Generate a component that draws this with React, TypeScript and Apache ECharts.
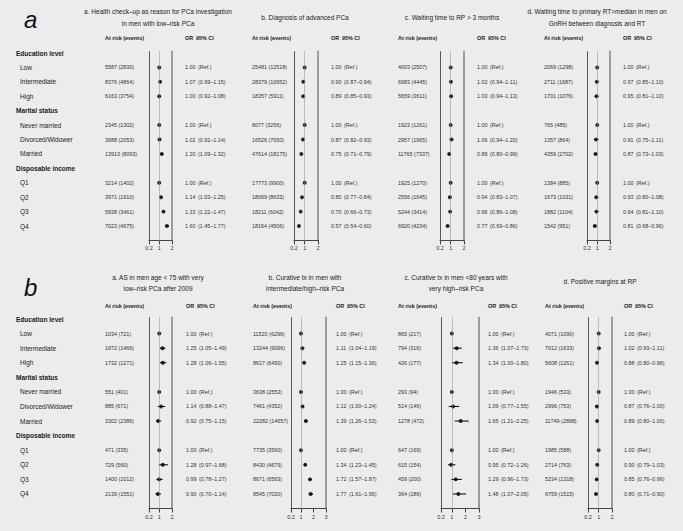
import React, { useEffect, useRef } from "react";
import * as echarts from "echarts";

// ---------- DATA ----------
const ROW_LABELS = [
  "Education level", "Low", "Intermediate", "High",
  "Marital status", "Never married", "Divorced/Widower", "Married",
  "Disposable income", "Q1", "Q2", "Q3", "Q4",
];
const HEADER_ROWS = [0, 4, 8];
const ITEM_ROWS = [1, 2, 3, 5, 6, 7, 9, 10, 11, 12];

const TOP_TITLES = [
  ["a. Health check\u2013up as reason for PCa investigation", "in men with low\u2013risk PCa"],
  ["b. Diagnosis of advanced PCa"],
  ["c. Waiting time to RP > 3 months"],
  ["d. Waiting time to primary RT>median in men on", "GnRH between diagnosis and RT"],
];
const BOTTOM_TITLES = [
  ["a. AS in men age < 75 with very", "low\u2013risk PCa after 2009"],
  ["b. Curative tx in men with", "intermediate/high\u2013risk PCa"],
  ["c. Curative tx in men <80 years with", "very high\u2013risk PCa"],
  ["d. Positive margins at RP"],
];

// Top a
const TOP_A_AT_RISK = [5587, 8376, 6163, 2345, 3688, 13913, 3214, 3971, 5938, 7023];
const TOP_A_EVENTS = [2830, 4864, 3754, 1302, 2053, 8093, 1402, 1910, 3461, 4675];
const TOP_A_OR = [1.0, 1.07, 1.0, 1.0, 1.02, 1.2, 1.0, 1.14, 1.33, 1.6];
const TOP_A_LO = [null, 0.99, 0.92, null, 0.92, 1.09, null, 1.03, 1.22, 1.45];
const TOP_A_HI = [null, 1.15, 1.08, null, 1.14, 1.32, null, 1.25, 1.47, 1.77];
// Top b
const TOP_B_AT_RISK = [25481, 28379, 18357, 8077, 16526, 47614, 17773, 18069, 18211, 18164];
const TOP_B_EVENTS = [12518, 10652, 5911, 3256, 7650, 18175, 9900, 8633, 6042, 4506];
const TOP_B_OR = [1.0, 0.9, 0.89, 1.0, 0.87, 0.75, 1.0, 0.8, 0.7, 0.57];
const TOP_B_LO = [null, 0.87, 0.85, null, 0.82, 0.71, null, 0.77, 0.66, 0.54];
const TOP_B_HI = [null, 0.94, 0.93, null, 0.93, 0.79, null, 0.84, 0.73, 0.6];
// Top c
const TOP_C_AT_RISK = [4003, 6983, 5659, 1923, 2957, 11765, 1925, 2556, 5244, 6920];
const TOP_C_EVENTS = [2507, 4445, 3611, 1261, 1965, 7337, 1270, 1645, 3414, 4234];
const TOP_C_OR = [1.0, 1.02, 1.03, 1.0, 1.06, 0.89, 1.0, 0.94, 0.96, 0.77];
const TOP_C_LO = [null, 0.94, 0.94, null, 0.94, 0.8, null, 0.83, 0.86, 0.69];
const TOP_C_HI = [null, 1.11, 1.13, null, 1.2, 0.99, null, 1.07, 1.08, 0.86];
// Top d
const TOP_D_AT_RISK = [2069, 2711, 1701, 765, 1357, 4359, 1384, 1673, 1882, 1542];
const TOP_D_EVENTS = [1298, 1687, 1076, 485, 864, 2702, 885, 1031, 1104, 951];
const TOP_D_OR = [1.0, 0.97, 0.95, 1.0, 0.91, 0.87, 1.0, 0.93, 0.94, 0.81];
const TOP_D_LO = [null, 0.85, 0.81, null, 0.75, 0.73, null, 0.8, 0.81, 0.68];
const TOP_D_HI = [null, 1.1, 1.1, null, 1.11, 1.03, null, 1.08, 1.1, 0.96];
// Bottom a
const BOT_A_AT_RISK = [1034, 1972, 1732, 551, 885, 3302, 471, 729, 1400, 2139];
const BOT_A_EVENTS = [721, 1466, 1271, 401, 671, 2386, 335, 560, 1012, 1551];
const BOT_A_OR = [1.0, 1.25, 1.28, 1.0, 1.14, 0.92, 1.0, 1.28, 0.99, 0.9];
const BOT_A_LO = [null, 1.05, 1.06, null, 0.88, 0.75, null, 0.97, 0.78, 0.7];
const BOT_A_HI = [null, 1.49, 1.55, null, 1.47, 1.15, null, 1.68, 1.27, 1.14];
// Bottom b
const BOT_B_AT_RISK = [11520, 13244, 8617, 3638, 7461, 22282, 7735, 8430, 8671, 8545];
const BOT_B_EVENTS = [6296, 9096, 6450, 2553, 4352, 14657, 3560, 4679, 6563, 7020];
const BOT_B_OR = [1.0, 1.11, 1.25, 1.0, 1.12, 1.39, 1.0, 1.34, 1.72, 1.77];
const BOT_B_LO = [null, 1.04, 1.15, null, 1.0, 1.26, null, 1.23, 1.57, 1.61];
const BOT_B_HI = [null, 1.19, 1.36, null, 1.24, 1.53, null, 1.45, 1.87, 1.95];
// Bottom c
const BOT_C_AT_RISK = [865, 794, 426, 293, 514, 1278, 647, 615, 459, 364];
const BOT_C_EVENTS = [217, 316, 177, 94, 146, 472, 169, 154, 200, 189];
const BOT_C_OR = [1.0, 1.36, 1.34, 1.0, 1.09, 1.65, 1.0, 0.95, 1.29, 1.48];
const BOT_C_LO = [null, 1.07, 1.0, null, 0.77, 1.21, null, 0.72, 0.96, 1.07];
const BOT_C_HI = [null, 1.73, 1.8, null, 1.55, 2.25, null, 1.26, 1.73, 2.05];
// Bottom d
const BOT_D_AT_RISK = [4071, 7012, 5608, 1946, 2996, 11749, 1985, 2714, 5234, 6759];
const BOT_D_EVENTS = [1090, 1633, 1261, 533, 753, 2898, 588, 763, 1318, 1515];
const BOT_D_OR = [1.0, 1.02, 0.88, 1.0, 0.87, 0.89, 1.0, 0.9, 0.85, 0.8];
const BOT_D_LO = [null, 0.93, 0.8, null, 0.76, 0.8, null, 0.79, 0.76, 0.71];
const BOT_D_HI = [null, 1.11, 0.96, null, 1.0, 1.0, null, 1.03, 0.96, 0.9];

const TICKS_2 = [0.2, 1, 2];
const TICKS_3 = [0.2, 1, 2, 3];

// ---------- LAYOUT ----------
const FONT = "'Liberation Sans', Arial, Helvetica, sans-serif";
const HALVES = [
  { letter: "a", letterY: 19, titleY: [11, 23], singleTitleY: 17, headerY: 38, row0: 53, step: 14.42 },
  { letter: "b", letterY: 287, titleY: [277, 288], singleTitleY: 281, headerY: 306, row0: 319, step: 14.58 },
];

type Panel = {
  half: number; title: string[]; titleX: number; atRiskX: number; gl: number; gr: number;
  xMax: number; ticks: number[]; orX: number;
  atRisk: number[]; events: number[]; or: number[]; lo: (number | null)[]; hi: (number | null)[];
};

const PANELS: Panel[] = [
  { half: 0, title: TOP_TITLES[0], titleX: 158, atRiskX: 105, gl: 149, gr: 172, xMax: 2, ticks: TICKS_2, orX: 185,
    atRisk: TOP_A_AT_RISK, events: TOP_A_EVENTS, or: TOP_A_OR, lo: TOP_A_LO, hi: TOP_A_HI },
  { half: 0, title: TOP_TITLES[1], titleX: 305, atRiskX: 252, gl: 294, gr: 318, xMax: 2, ticks: TICKS_2, orX: 331,
    atRisk: TOP_B_AT_RISK, events: TOP_B_EVENTS, or: TOP_B_OR, lo: TOP_B_LO, hi: TOP_B_HI },
  { half: 0, title: TOP_TITLES[2], titleX: 452, atRiskX: 398, gl: 440, gr: 464, xMax: 2, ticks: TICKS_2, orX: 477,
    atRisk: TOP_C_AT_RISK, events: TOP_C_EVENTS, or: TOP_C_OR, lo: TOP_C_LO, hi: TOP_C_HI },
  { half: 0, title: TOP_TITLES[3], titleX: 597, atRiskX: 544, gl: 587, gr: 610, xMax: 2, ticks: TICKS_2, orX: 623,
    atRisk: TOP_D_AT_RISK, events: TOP_D_EVENTS, or: TOP_D_OR, lo: TOP_D_LO, hi: TOP_D_HI },
  { half: 1, title: BOTTOM_TITLES[0], titleX: 158, atRiskX: 105, gl: 149, gr: 172, xMax: 2, ticks: TICKS_2, orX: 186,
    atRisk: BOT_A_AT_RISK, events: BOT_A_EVENTS, or: BOT_A_OR, lo: BOT_A_LO, hi: BOT_A_HI },
  { half: 1, title: BOTTOM_TITLES[1], titleX: 305, atRiskX: 253, gl: 291, gr: 326, xMax: 3, ticks: TICKS_3, orX: 336,
    atRisk: BOT_B_AT_RISK, events: BOT_B_EVENTS, or: BOT_B_OR, lo: BOT_B_LO, hi: BOT_B_HI },
  { half: 1, title: BOTTOM_TITLES[2], titleX: 456, atRiskX: 398, gl: 441, gr: 479, xMax: 3, ticks: TICKS_3, orX: 488,
    atRisk: BOT_C_AT_RISK, events: BOT_C_EVENTS, or: BOT_C_OR, lo: BOT_C_LO, hi: BOT_C_HI },
  { half: 1, title: BOTTOM_TITLES[3], titleX: 600, atRiskX: 545, gl: 588, gr: 612, xMax: 2, ticks: TICKS_2, orX: 624,
    atRisk: BOT_D_AT_RISK, events: BOT_D_EVENTS, or: BOT_D_OR, lo: BOT_D_LO, hi: BOT_D_HI },
];

const Y_MIN = -0.1;
const Y_MAX = 13;

function txt(x: number, y: number, text: string, size: number, opts: any = {}) {
  return {
    type: "text",
    x, y, silent: true,
    style: {
      text, fontSize: size, fontFamily: FONT,
      fontWeight: opts.bold ? "bold" : "normal",
      fontStyle: opts.italic ? "italic" : "normal",
      fill: opts.color || "#222",
      align: opts.align || "left",
      verticalAlign: "middle",
    },
  };
}

function buildOption() {
  const grids: any[] = [];
  const xAxes: any[] = [];
  const yAxes: any[] = [];
  const series: any[] = [];
  const graphics: any[] = [];

  HALVES.forEach((h) => {
    graphics.push(txt(24, h.letterY, h.letter, 24, { italic: true, color: "#111" }));
    ROW_LABELS.forEach((lab, i) => {
      const isHeader = HEADER_ROWS.indexOf(i) >= 0;
      graphics.push(txt(isHeader ? 16 : 20, h.row0 + i * h.step, lab, 6.5, { bold: isHeader, color: "#1a1a1a" }));
    });
  });

  PANELS.forEach((p, idx) => {
    const h = HALVES[p.half];
    const top = h.row0 + Y_MIN * h.step;
    const height = (Y_MAX - Y_MIN) * h.step;
    grids.push({ left: p.gl, top, width: p.gr - p.gl, height, containLabel: false, show: false });
    xAxes.push({
      type: "value", gridIndex: idx, min: 0.2, max: p.xMax, position: "bottom",
      axisLine: { show: true, onZero: false, lineStyle: { color: "#444", width: 1 } },
      axisTick: { show: true, customValues: p.ticks, length: 4, lineStyle: { color: "#444", width: 1 } },
      axisLabel: { show: true, customValues: p.ticks, fontSize: 5.5, fontFamily: FONT, color: "#333", margin: 5 },
      splitLine: { show: false },
    });
    yAxes.push({
      type: "value", gridIndex: idx, min: Y_MIN, max: Y_MAX, inverse: true, position: "left",
      axisLine: { show: true, onZero: false, lineStyle: { color: "#555", width: 1 } },
      axisTick: { show: false }, axisLabel: { show: false }, splitLine: { show: false },
    });
    yAxes.push({
      type: "value", gridIndex: idx, min: Y_MIN, max: Y_MAX, inverse: true, position: "right",
      axisLine: { show: true, onZero: false, lineStyle: { color: "#9c9c9c", width: 2 } },
      axisTick: { show: false }, axisLabel: { show: false }, splitLine: { show: false },
    });
    const yIdx = idx * 2;

    const ciData: any[] = [];
    p.lo.forEach((lo, k) => {
      if (lo !== null && p.hi[k] !== null) ciData.push([lo, p.hi[k], ITEM_ROWS[k]]);
    });
    series.push({
      type: "custom", xAxisIndex: idx, yAxisIndex: yIdx, silent: true, z: 3,
      encode: { x: [0, 1], y: 2 },
      data: ciData,
      renderItem: (params: any, api: any) => {
        const a = api.coord([api.value(0), api.value(2)]);
        const b = api.coord([api.value(1), api.value(2)]);
        return { type: "line", shape: { x1: a[0], y1: a[1], x2: b[0], y2: b[1] }, style: { stroke: "#000", lineWidth: 1 } };
      },
    });
    series.push({
      type: "scatter", xAxisIndex: idx, yAxisIndex: yIdx, silent: true, z: 4,
      symbol: "circle", symbolSize: 4,
      itemStyle: { color: "#000" },
      data: p.or.map((v, k) => [v, ITEM_ROWS[k]]),
      markLine: {
        silent: true, symbol: ["none", "none"], label: { show: false },
        lineStyle: { type: "dotted", color: "#8a8a8a", width: 1 },
        data: [{ xAxis: 1 }],
      },
    });

    // titles
    if (p.title.length === 2) {
      graphics.push(txt(p.titleX, h.titleY[0], p.title[0], 6.5, { align: "center", color: "#1a1a1a" }));
      graphics.push(txt(p.titleX, h.titleY[1], p.title[1], 6.5, { align: "center", color: "#1a1a1a" }));
    } else {
      graphics.push(txt(p.titleX, h.singleTitleY, p.title[0], 6.5, { align: "center", color: "#1a1a1a" }));
    }
    // column headers
    graphics.push(txt(p.atRiskX, h.headerY, "At risk (events)", 5.4, { bold: true, color: "#1a1a1a" }));
    graphics.push(txt(p.orX, h.headerY, "OR", 5.4, { bold: true, color: "#1a1a1a" }));
    graphics.push(txt(p.orX + 11, h.headerY, "95% CI", 5.4, { bold: true, color: "#1a1a1a" }));
    // table values
    p.atRisk.forEach((n, k) => {
      const y = h.row0 + ITEM_ROWS[k] * h.step;
      graphics.push(txt(p.atRiskX, y, `${n} (${p.events[k]})`, 5.4, { color: "#333" }));
      graphics.push(txt(p.orX, y, p.or[k].toFixed(2), 5.4, { color: "#333" }));
      const lo = p.lo[k];
      const hi = p.hi[k];
      const ci = lo === null || hi === null ? "(Ref.)" : `(${lo.toFixed(2)}\u2013${hi.toFixed(2)})`;
      graphics.push(txt(p.orX + 13, y, ci, 5.4, { color: "#333" }));
    });
  });

  return {
    animation: false,
    backgroundColor: "#ececec",
    grid: grids,
    xAxis: xAxes,
    yAxis: yAxes,
    series,
    graphic: graphics,
  };
}

export default function App() {
  const ref = useRef<HTMLDivElement>(null);
  useEffect(() => {
    const chart = echarts.init(ref.current!, null, { renderer: "svg" });
    chart.setOption(buildOption() as any);
    return () => chart.dispose();
  }, []);
  return (
    <div
      ref={ref}
      style={{ position: "fixed", left: 0, top: 0, width: 683, height: 531, background: "#ececec" }}
    />
  );
}
